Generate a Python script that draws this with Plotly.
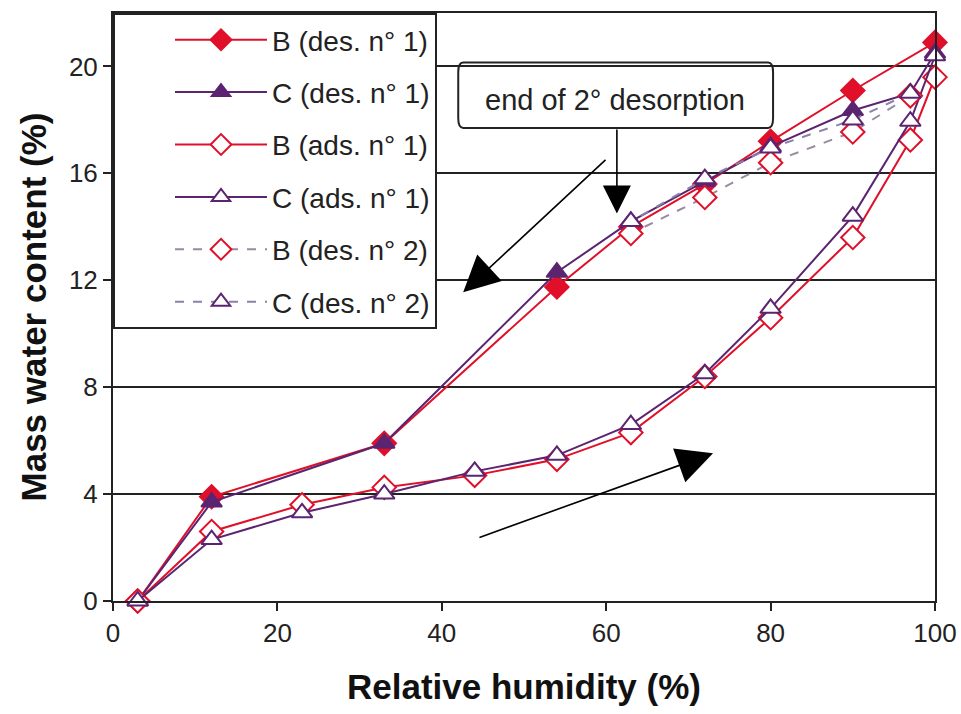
import plotly.graph_objects as go

# ---- data ----
rh_des1_B = [100, 90, 80, 72, 63, 54, 33, 12, 3]
wc_des1_B = [20.9, 19.1, 17.2, 15.6, 14.0, 11.75, 5.9, 3.9, 0]
rh_des1_C = [100, 97, 90, 80, 72, 63, 54, 33, 12, 3]
wc_des1_C = [20.5, 19.0, 18.35, 17.0, 15.7, 14.2, 12.3, 5.9, 3.7, 0]
rh_ads = [3, 12, 23, 33, 44, 54, 63, 72, 80, 90, 97, 100]
wc_ads_B = [0, 2.6, 3.6, 4.25, 4.7, 5.3, 6.3, 8.4, 10.6, 13.6, 17.25, 19.6]
wc_ads_C = [0, 2.3, 3.3, 4.0, 4.85, 5.45, 6.6, 8.5, 10.95, 14.4, 17.95, 20.4]
rh_des2 = [97, 90, 80, 72, 63]
wc_des2_B = [18.9, 17.55, 16.4, 15.1, 13.75]
wc_des2_C = [19.0, 18.0, 16.95, 15.8, 14.2]

y_ticks = [0, 4, 8, 12, 16, 20]
x_ticks = [0, 20, 40, 60, 80, 100]

RED = "#e0102a"
PURPLE = "#5b2470"
DASH_B = "#9a8aa0"
DASH_C = "#8a80a8"

fig = go.Figure()

def add(x, y, name, lcolor, dash, symbol, mfill, mline, lg):
    fig.add_trace(go.Scatter(
        x=x, y=y, name=name, mode="lines+markers", legendgroup=lg,
        line=dict(color=lcolor, width=2, dash=dash),
        marker=dict(symbol=symbol, size=18, color=mfill,
                    line=dict(color=mline, width=2)),
        cliponaxis=False,
    ))

add(rh_des1_B, wc_des1_B, "B (des. n° 1)", RED, "solid", "diamond", RED, RED, "g1")
add(rh_des1_C, wc_des1_C, "C (des. n° 1)", PURPLE, "solid", "triangle-up", PURPLE, PURPLE, "g2")
add(rh_ads, wc_ads_B, "B (ads. n° 1)", RED, "solid", "diamond", "white", RED, "g3")
add(rh_ads, wc_ads_C, "C (ads. n° 1)", PURPLE, "solid", "triangle-up", "white", PURPLE, "g4")
add(rh_des2, wc_des2_B, "B (des. n° 2)", DASH_B, "dash", "diamond", "white", RED, "g5")
add(rh_des2, wc_des2_C, "C (des. n° 2)", DASH_C, "dash", "triangle-up", "white", PURPLE, "g6")

FONT = "Liberation Sans, Arial, sans-serif"
INK = "#222"

annotations = [
    dict(x=42.6, y=11.55, ax=60.1, ay=16.56, xref="x", yref="y", axref="x", ayref="y",
         text="", showarrow=True, arrowhead=2, arrowsize=4.5, arrowwidth=1.6, arrowcolor="black"),
    dict(x=73.0, y=5.53, ax=44.4, ay=2.36, xref="x", yref="y", axref="x", ayref="y",
         text="", showarrow=True, arrowhead=2, arrowsize=4.5, arrowwidth=1.6, arrowcolor="black"),
    dict(x=61.3, y=14.5, ax=61.3, ay=17.7, xref="x", yref="y", axref="x", ayref="y",
         text="", showarrow=True, arrowhead=2, arrowsize=3.5, arrowwidth=1.6, arrowcolor="black"),
    dict(x=61.1, y=18.75, xref="x", yref="y", text="end of 2° desorption", showarrow=False,
         font=dict(family=FONT, size=29, color=INK)),
]

# rounded box around the label
x0, x1, y0, y1, r = 42.0, 80.3, 17.7, 20.15, 0.6
ry = r * 8.22 / 26.75 * 2.0
box = (f"M {x0+r},{y0} L {x1-r},{y0} Q {x1},{y0} {x1},{y0+ry} L {x1},{y1-ry} "
       f"Q {x1},{y1} {x1-r},{y1} L {x0+r},{y1} Q {x0},{y1} {x0},{y1-ry} "
       f"L {x0},{y0+ry} Q {x0},{y0} {x0+r},{y0} Z")

fig.update_layout(
    width=961, height=714,
    margin=dict(l=113, r=26, t=13, b=113),
    paper_bgcolor="white", plot_bgcolor="white",
    font=dict(family=FONT, size=26, color=INK),
    showlegend=True,
    legend=dict(x=0, y=1, xanchor="left", yanchor="top",
                bgcolor="white", bordercolor=INK, borderwidth=2,
                font=dict(family=FONT, size=28, color=INK),
                tracegroupgap=13, itemwidth=92, indentation=55),
    annotations=annotations,
    shapes=[dict(type="path", path=box, xref="x", yref="y",
                 line=dict(color=INK, width=2), fillcolor="white", layer="below")],
    xaxis=dict(range=[0, 100], tickvals=x_ticks, showgrid=False, zeroline=False,
               showline=True, linecolor=INK, linewidth=2, mirror=True, automargin=False,
               ticks="outside", ticklen=8, tickwidth=2, tickcolor=INK,
               tickfont=dict(family=FONT, size=26, color=INK),
               title=dict(text="<b>Relative humidity (%)</b>", font=dict(family=FONT, size=35, color="#111"),
                          standoff=27)),
    yaxis=dict(range=[0, 22], tickvals=y_ticks, showgrid=True, gridcolor=INK, gridwidth=2,
               zeroline=False, showline=True, linecolor=INK, linewidth=2, mirror=True, automargin=False,
               ticks="outside", ticklen=8, tickwidth=2, tickcolor=INK,
               tickfont=dict(family=FONT, size=26, color=INK),
               title=dict(text="<b>Mass water content (%)</b>", font=dict(family=FONT, size=35, color="#111"),
                          standoff=12)),
)

fig.write_html("out.html")
